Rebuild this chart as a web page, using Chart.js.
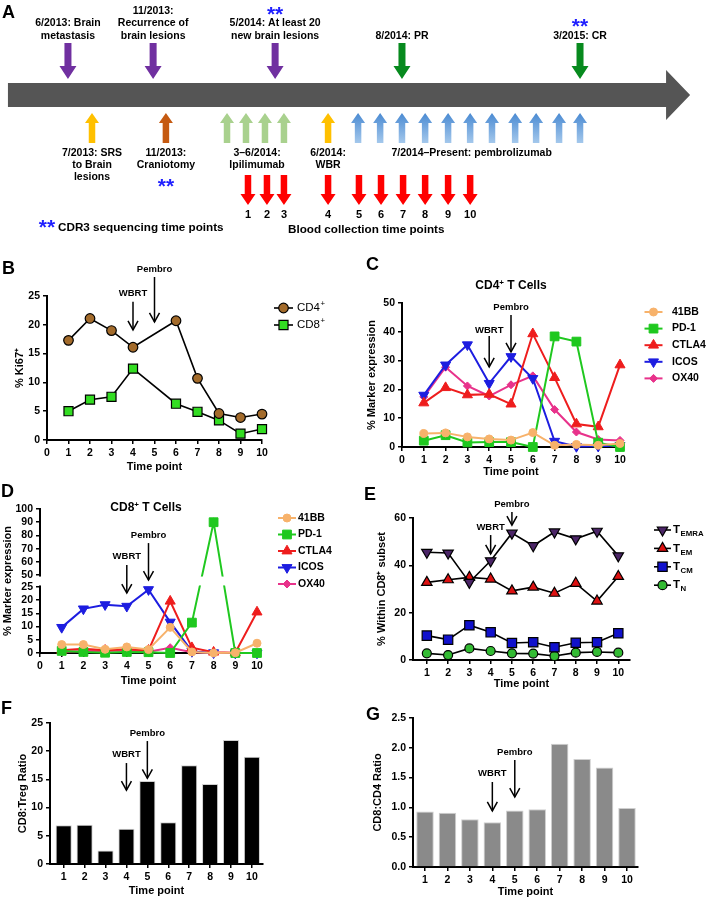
<!DOCTYPE html>
<html>
<head>
<meta charset="utf-8">
<script src="https://cdn.jsdelivr.net/npm/chart.js@4.4.1/dist/chart.umd.min.js"></script>
<style>
  body { margin: 0; background: #fff; }
  #fig { position: relative; width: 706px; height: 900px; overflow: hidden;
         font-family: "Liberation Sans", Arial, Helvetica, sans-serif; font-weight: bold; color: #000; }
  canvas { position: absolute; }
  .lbl { position: absolute; font-size: 18px; line-height: 18px; }
  .ttl { position: absolute; width: 120px; text-align: center; font-size: 12px; line-height: 14px; }
  .ttl sup { font-size: 8px; line-height: 0; vertical-align: 4px; }
</style>
</head>
<body>
<div id="fig">
  <canvas id="cA" width="706" height="245" style="left:0;top:0"></canvas>
  <canvas id="cB" width="360" height="230" style="left:0;top:250px"></canvas>
  <canvas id="cC" width="346" height="230" style="left:360px;top:250px"></canvas>
  <canvas id="cD" width="360" height="220" style="left:0;top:480px"></canvas>
  <canvas id="cE" width="346" height="220" style="left:360px;top:480px"></canvas>
  <canvas id="cF" width="360" height="200" style="left:0;top:700px"></canvas>
  <canvas id="cG" width="346" height="200" style="left:360px;top:700px"></canvas>

  <div class="lbl" style="left:2px;top:3px">A</div>
  <div class="lbl" style="left:2px;top:259px">B</div>
  <div class="lbl" style="left:366px;top:255px">C</div>
  <div class="lbl" style="left:1px;top:482px">D</div>
  <div class="lbl" style="left:364px;top:485px">E</div>
  <div class="lbl" style="left:1px;top:699px">F</div>
  <div class="lbl" style="left:366px;top:705px">G</div>

  <div class="ttl" style="left:451px;top:278px">CD4<sup>+</sup> T Cells</div>
  <div class="ttl" style="left:86px;top:500px">CD8<sup>+</sup> T Cells</div>
</div>

<script>
// ---------- data ----------
const timePoints = [1, 2, 3, 4, 5, 6, 7, 8, 9, 10];

// B: % Ki67+ (no sample at time point 5)
const ki67CD4 = [17.3, 21.1, 19.0, 16.1, null, 20.7, 10.7, 4.6, 3.9, 4.5];
const ki67CD8 = [5.0, 7.0, 7.5, 12.4, null, 6.3, 4.9, 3.4, 1.1, 1.9];

// C: CD4+ T cell marker expression (%)
const cd4_41BB  = [4.7, 4.9, 3.5, 2.8, 2.4, 5.0, 0.6, 0.9, 0.6, 1.2];
const cd4_PD1   = [2.2, 4.1, 1.6, 1.7, 1.7, 0.0, 38.4, 36.6, 1.5, 0.0];
const cd4_CTLA4 = [15.3, 20.6, 18.1, 18.3, 14.9, 39.3, 24.1, 8.0, 7.0, 28.5];
const cd4_ICOS  = [18.0, 28.5, 35.5, 22.1, 31.4, 23.8, 2.0, 0.2, 0.3, 0.5];
const cd4_OX40  = [17.4, 27.7, 21.2, 17.7, 21.6, 24.7, 13.0, 5.2, 2.6, 2.3];

// D: CD8+ T cell marker expression (%)
const cd8_41BB  = [3.2, 3.2, 1.4, 2.3, 1.3, 9.7, 0.4, 0.0, 0.1, 3.7];
const cd8_PD1   = [0.8, 0.4, 0.1, 0.4, 0.3, 0.0, 11.5, 90.0, 0.0, 0.0];
const cd8_CTLA4 = [1.0, 1.6, 1.0, 1.4, 1.0, 19.6, 2.0, 0.3, 0.1, 15.5];
const cd8_ICOS  = [9.7, 16.7, 18.3, 17.7, 24.0, 11.7, 0.6, 0.1, 0.0, 0.0];
const cd8_OX40  = [0.4, 0.8, 0.8, 0.9, 0.5, 2.0, 0.3, 0.0, 0.0, 0.0];

// E: % within CD8+ subset
const tEMRA = [45.5, 45.2, 32.8, 41.9, 53.6, 48.3, 54.1, 51.2, 54.4, 44.0];
const tEM   = [32.8, 33.9, 34.9, 34.2, 29.2, 30.8, 28.2, 32.4, 24.9, 35.3];
const tCM   = [10.3, 8.6, 14.7, 11.7, 7.2, 7.5, 5.4, 7.3, 7.5, 11.3];
const tN    = [2.8, 2.1, 4.9, 3.8, 2.8, 2.7, 1.7, 3.1, 3.4, 3.1];

// F, G: ratios
const cd8TregRatio = [6.85, 6.95, 2.4, 6.25, 14.7, 7.4, 17.5, 14.2, 22.0, 19.0];
const cd8Cd4Ratio  = [0.93, 0.91, 0.80, 0.75, 0.95, 0.97, 2.07, 1.81, 1.67, 0.99];

// tick values
const ticksTime   = [0, 1, 2, 3, 4, 5, 6, 7, 8, 9, 10];
const ticksKi67   = [0, 5, 10, 15, 20, 25];
const ticksCD4Pct = [0, 10, 20, 30, 40, 50];
const ticksCD8Pct = [0, 5, 10, 15, 20, 25, 50, 60, 70, 80, 90, 100];
const ticksSubset = [0, 20, 40, 60];
const ticksTreg   = [0, 5, 10, 15, 20, 25];
const ticksRatio  = [0, 0.5, 1, 1.5, 2, 2.5];

// A: timeline (positions in treatment-slot units along the bar)
const timelineStart = 0.36, timelineHeadBase = 30.19, timelineTip = 31.28;
const topEventPos  = [3.08, 6.94, 12.47, 18.22, 26.29];
const topEventText = [['6/2013: Brain', 'metastasis'], ['11/2013:', 'Recurrence of', 'brain lesions'],
                      ['5/2014: At least 20', 'new brain lesions'], ['8/2014: PR'], ['3/2015: CR']];
const topEventKind = ['disease', 'disease', 'disease', 'response', 'response'];
const topEventSeq  = [false, false, true, false, true];
const srsPos = [4.17];
const craniotomyPos = [7.52];
const ipilimumabPos = [10.29, 11.15, 12.01, 12.87];
const wbrPos = [14.87];
const pembroPos = [16.23, 17.23, 18.22, 19.27, 20.31, 21.31, 22.30, 23.35, 24.30, 25.34, 26.29];
const bloodPos = [11.24, 12.10, 12.87, 14.87, 16.27, 17.27, 18.27, 19.27, 20.31, 21.31];

// ---------- setup ----------
const FONT = '"Liberation Sans", Arial, Helvetica, sans-serif';
const TITLE_SIZE = 11, TICK_SIZE = 10.5;
Chart.defaults.font.family = FONT;
Chart.defaults.font.weight = 'bold';
Chart.defaults.color = '#000';
Chart.defaults.animation = false;
Chart.defaults.responsive = false;
Chart.defaults.devicePixelRatio = 1;
Chart.defaults.events = [];
Chart.defaults.plugins.legend.display = false;
Chart.defaults.plugins.tooltip.enabled = false;

// broken axis for panel D (0-25 below, 50-100 above, upper half compressed)
const BRK_LO = 25, BRK_HI = 50, BRK_GAP = 4.5, BRK_K = 0.5;
const toBroken = v => v <= BRK_LO ? v : BRK_LO + BRK_GAP + (v - BRK_HI) * BRK_K;
const fromBroken = t => t <= BRK_LO ? t : BRK_HI + (t - BRK_LO - BRK_GAP) / BRK_K;

// chart area box -> padding and axis sizes
function frame(w, h, area, xTitleY, yTitleX) {
  const half = TITLE_SIZE * 1.2 / 2;
  return {
    padding: { left: 0, top: area[1], right: w - area[2], bottom: h - (xTitleY + half) },
    yWidth: area[0],
    xHeight: xTitleY + half - area[3],
    yTitlePad: yTitleX - half
  };
}

function axis(f, o, horiz) {
  return {
    type: 'linear',
    position: horiz ? 'bottom' : 'left',
    min: o.min ?? o.ticks[0],
    max: o.max ?? o.ticks[o.ticks.length - 1],
    offset: false,
    grid: { display: true, drawOnChartArea: false, drawTicks: true, tickLength: 4,
            color: '#000', lineWidth: 1.5, offset: false },
    border: { display: true, color: '#000', width: 2 },
    ticks: { autoSkip: false, maxRotation: 0, padding: 3, color: '#000',
             font: { size: TICK_SIZE, weight: 'bold' }, callback: o.fmt || (v => String(v)) },
    title: { display: true, text: o.title, color: '#000', font: { size: TITLE_SIZE, weight: 'bold' },
             padding: horiz ? { top: 0, bottom: 0 } : { top: f.yTitlePad, bottom: 0 } },
    afterBuildTicks: s => { s.ticks = o.ticks.map(v => ({ value: v })); },
    afterFit: s => { if (horiz) s.height = f.xHeight; else s.width = f.yWidth; }
  };
}

function series(label, values, o) {
  return {
    label, labelSup: o.sup, labelSub: o.sub,
    data: values.map((v, i) => ({ x: timePoints[i], y: v == null ? null : (o.map ? o.map(v) : v) })),
    borderColor: o.line, borderWidth: o.lw || 2,
    pointStyle: o.style, pointRotation: o.rot || 0, pointRadius: o.r,
    pointBackgroundColor: o.fill, pointBorderColor: o.edge || o.fill, pointBorderWidth: o.ew || 1,
    spanGaps: true, clip: false, tension: 0
  };
}

// marker for the side legends (same shapes as Chart.js point styles)
function marker(ctx, style, r, rot, x, y) {
  ctx.beginPath();
  if (style === 'circle') {
    ctx.arc(x, y, r, 0, Math.PI * 2);
  } else if (style === 'rect') {
    const s = r * Math.SQRT1_2;
    ctx.rect(x - s, y - s, 2 * s, 2 * s);
  } else if (style === 'rectRot') {
    ctx.moveTo(x - r, y); ctx.lineTo(x, y - r); ctx.lineTo(x + r, y); ctx.lineTo(x, y + r);
  } else if (style === 'triangle') {
    let a = rot * Math.PI / 180;
    for (let k = 0; k < 3; k++) {
      const px = x + Math.sin(a) * r, py = y - Math.cos(a) * r;
      if (k === 0) ctx.moveTo(px, py); else ctx.lineTo(px, py);
      a += Math.PI * 2 / 3;
    }
  }
  ctx.closePath();
  ctx.fill();
  ctx.stroke();
}

const decor = {
  id: 'decor',
  afterDatasetsDraw(chart, args, o) {
    if (!o.gap) return;
    const { ctx, chartArea: a, scales: { y } } = chart;
    const yTop = y.getPixelForValue(o.gap[1]), yBot = y.getPixelForValue(o.gap[0]);
    ctx.save();
    ctx.fillStyle = '#fff';
    ctx.fillRect(a.left - 6, yTop + 1.5, a.right - a.left + 10, yBot - yTop - 3);
    ctx.restore();
  },
  afterDraw(chart, args, o) {
    const ctx = chart.ctx, xs = chart.scales.x, ys = chart.scales.y;
    (o.callouts || []).forEach(c => {
      const x = xs.getPixelForValue(c.x);
      const y0 = ys.getPixelForValue(c.from), y1 = ys.getPixelForValue(c.to);
      ctx.save();
      ctx.strokeStyle = '#000';
      ctx.lineWidth = 1.5;
      ctx.beginPath(); ctx.moveTo(x, y0); ctx.lineTo(x, y1); ctx.stroke();
      ctx.beginPath(); ctx.moveTo(x - 5, y1 - 9); ctx.lineTo(x, y1); ctx.lineTo(x + 5, y1 - 9); ctx.stroke();
      ctx.font = `bold 9.5px ${FONT}`;
      ctx.fillStyle = '#000';
      ctx.textAlign = 'center';
      ctx.textBaseline = 'middle';
      ctx.fillText(c.label, x, ys.getPixelForValue(c.labelAt));
      ctx.restore();
    });
    const L = o.legend;
    if (!L) return;
    chart.data.datasets.forEach((ds, i) => {
      const y = L.y + i * L.dy;
      ctx.save();
      ctx.strokeStyle = ds.borderColor;
      ctx.lineWidth = ds.borderWidth;
      ctx.beginPath(); ctx.moveTo(L.x - L.half, y); ctx.lineTo(L.x + L.half, y); ctx.stroke();
      ctx.fillStyle = ds.pointBackgroundColor;
      ctx.strokeStyle = ds.pointBorderColor;
      ctx.lineWidth = ds.pointBorderWidth;
      marker(ctx, ds.pointStyle, ds.pointRadius, ds.pointRotation, L.x, y);
      ctx.fillStyle = '#000';
      ctx.textAlign = 'left';
      ctx.textBaseline = 'middle';
      ctx.font = `${L.weight} ${L.size}px ${FONT}`;
      ctx.fillText(ds.label, L.textX, y);
      const w = ctx.measureText(ds.label).width;
      ctx.font = `${L.weight} ${L.size * 0.68}px ${FONT}`;
      if (ds.labelSup) ctx.fillText(ds.labelSup, L.textX + w + 0.5, y - 4);
      if (ds.labelSub) ctx.fillText(ds.labelSub, L.textX + w + 0.5, y + 4);
      ctx.restore();
    });
  }
};

function lineChart(id, f, datasets, xo, yo, extra) {
  return new Chart(document.getElementById(id), {
    type: 'line',
    data: { datasets },
    options: {
      layout: { padding: f.padding, autoPadding: false },
      scales: { x: axis(f, xo, true), y: axis(f, yo, false) },
      plugins: { decor: extra }
    },
    plugins: [decor]
  });
}

function barChart(id, f, values, color, xo, yo, extra) {
  return new Chart(document.getElementById(id), {
    type: 'bar',
    data: { datasets: [{
      data: values.map((v, i) => ({ x: timePoints[i], y: v })),
      backgroundColor: color, borderColor: '#cfcfcf', borderWidth: 1,
      categoryPercentage: 1, barPercentage: xo.bar
    }] },
    options: {
      layout: { padding: f.padding, autoPadding: false },
      scales: { x: axis(f, xo, true), y: axis(f, yo, false) },
      plugins: { decor: extra }
    },
    plugins: [decor]
  });
}

// ---------- A: timeline ----------
const timelinePlugin = {
  id: 'timeline',
  afterDraw(chart) {
    const ctx = chart.ctx;
    const X = v => chart.scales.x.getPixelForValue(v);
    const txt = (s, x, y, size, color, align) => {
      ctx.font = `bold ${size}px ${FONT}`;
      ctx.fillStyle = color || '#000';
      ctx.textAlign = align || 'center';
      ctx.textBaseline = 'middle';
      ctx.fillText(s, x, y);
    };
    const stars = (x, y, align) => {
      ctx.font = `bold 21px ${FONT}`;
      ctx.fillStyle = '#1f1fff';
      ctx.textAlign = align || 'center';
      ctx.textBaseline = 'alphabetic';
      ctx.fillText('**', x, y + 11.5);
    };
    const block = (x, yTail, yTip, shaftW, headW, headL, fill) => {
      const dir = Math.sign(yTip - yTail), yBase = yTip - dir * headL;
      ctx.beginPath();
      ctx.moveTo(x - shaftW / 2, yTail);
      ctx.lineTo(x - shaftW / 2, yBase);
      ctx.lineTo(x - headW / 2, yBase);
      ctx.lineTo(x, yTip);
      ctx.lineTo(x + headW / 2, yBase);
      ctx.lineTo(x + shaftW / 2, yBase);
      ctx.lineTo(x + shaftW / 2, yTail);
      ctx.closePath();
      ctx.fillStyle = fill;
      ctx.fill();
    };

    ctx.save();
    // main time bar
    ctx.fillStyle = '#555555';
    ctx.beginPath();
    ctx.moveTo(X(timelineStart), 83);
    ctx.lineTo(X(timelineHeadBase), 83);
    ctx.lineTo(X(timelineHeadBase), 70);
    ctx.lineTo(X(timelineTip), 95);
    ctx.lineTo(X(timelineHeadBase), 120);
    ctx.lineTo(X(timelineHeadBase), 107);
    ctx.lineTo(X(timelineStart), 107);
    ctx.closePath();
    ctx.fill();

    // events above the bar
    topEventPos.forEach((p, i) => {
      const x = X(p), lines = topEventText[i];
      const first = 36 - (lines.length - 1) * 12.4;
      lines.forEach((s, k) => txt(s, x, first + k * 12.4, 10.5));
      if (topEventSeq[i]) stars(x, first - 14.5);
      block(x, 43, 79, 7, 17, 13, topEventKind[i] === 'disease' ? '#7030a0' : '#078a1e');
    });

    // treatments below the bar
    const up = (p, fill) => block(X(p), 143, 113, 6.5, 14, 10, fill);
    srsPos.forEach(p => up(p, '#ffc000'));
    craniotomyPos.forEach(p => up(p, '#c55a11'));
    ipilimumabPos.forEach(p => up(p, '#a9d18e'));
    wbrPos.forEach(p => up(p, '#ffc000'));
    const grad = ctx.createLinearGradient(0, 113, 0, 143);
    grad.addColorStop(0, '#4a8ad2');
    grad.addColorStop(1, '#a4c8ec');
    pembroPos.forEach(p => up(p, grad));

    const mean = a => a.reduce((s, v) => s + v, 0) / a.length;
    const below = (lines, p) => lines.forEach((s, k) => txt(s, X(p), 153 + k * 12.2, 10.5));
    below(['7/2013: SRS', 'to Brain', 'lesions'], srsPos[0]);
    below(['11/2013:', 'Craniotomy'], craniotomyPos[0]);
    stars(X(craniotomyPos[0]), 181);
    below(['3\u20136/2014:', 'Ipilimumab'], mean(ipilimumabPos) + 0.07);
    below(['6/2014:', 'WBR'], wbrPos[0]);
    below(['7/2014\u2013Present: pembrolizumab'], mean(pembroPos) + 0.09);

    // blood collection
    bloodPos.forEach((p, i) => {
      block(X(p), 175, 205, 6.5, 15, 11, '#ff0000');
      txt(String(i + 1), X(p), 215, 11);
    });
    txt('Blood collection time points', X(16.6), 230, 11.7);

    stars(X(2.13), 222);
    txt('CDR3 sequencing time points', X(2.63), 228, 11.7, '#000', 'left');
    ctx.restore();
  }
};

new Chart(document.getElementById('cA'), {
  type: 'scatter',
  data: { datasets: [] },
  options: {
    layout: { padding: 0, autoPadding: false },
    scales: { x: { type: 'linear', display: false, min: 0, max: 32 },
              y: { type: 'linear', display: false, min: 0, max: 1 } }
  },
  plugins: [timelinePlugin]
});

// ---------- B ----------
const fB = frame(360, 230, [47, 46, 262, 190], 217, 20);
lineChart('cB', fB, [
  series('CD4', ki67CD4, { sup: '+', line: '#000', lw: 1.6, style: 'circle', r: 4.8, fill: '#a36b2b', edge: '#000', ew: 1.2 }),
  series('CD8', ki67CD8, { sup: '+', line: '#000', lw: 1.6, style: 'rect', r: 6.4, fill: '#33dd22', edge: '#000', ew: 1.2 })
], { ticks: ticksTime, title: 'Time point' }, { ticks: ticksKi67, title: '% Ki67\u207A' }, {
  callouts: [{ x: 4, label: 'WBRT', labelAt: 25.5, from: 24.0, to: 19.1 },
             { x: 5, label: 'Pembro', labelAt: 29.7, from: 28.3, to: 20.5 }],
  legend: { x: 283.5, half: 9.5, textX: 297, y: 58, dy: 17, size: 11.5, weight: 'normal' }
});

// ---------- C ----------
const fC = frame(346, 230, [42, 53, 260, 197], 222, 12);
const mk = {
  '41BB':  { line: '#f7b26b', style: 'circle', r: 4, fill: '#f7b26b' },
  'PD-1':  { line: '#1fc81f', style: 'rect', r: 6.2, fill: '#1fc81f' },
  'CTLA4': { line: '#ee1d1d', style: 'triangle', r: 5.8, fill: '#ee1d1d' },
  'ICOS':  { line: '#1d1de0', style: 'triangle', rot: 180, r: 5.8, fill: '#1d1de0' },
  'OX40':  { line: '#e8328b', style: 'rectRot', r: 4, fill: '#e8328b' }
};
lineChart('cC', fC, [
  series('41BB', cd4_41BB, mk['41BB']),
  series('PD-1', cd4_PD1, mk['PD-1']),
  series('CTLA4', cd4_CTLA4, mk['CTLA4']),
  series('ICOS', cd4_ICOS, mk['ICOS']),
  series('OX40', cd4_OX40, mk['OX40'])
], { ticks: ticksTime, title: 'Time point' }, { ticks: ticksCD4Pct, title: '% Marker expression' }, {
  callouts: [{ x: 4, label: 'WBRT', labelAt: 40.6, from: 38.5, to: 27.8 },
             { x: 5, label: 'Pembro', labelAt: 48.6, from: 45.8, to: 33.0 }],
  legend: { x: 293.5, half: 9, textX: 312, y: 62, dy: 16.6, size: 10.5, weight: 'bold' }
});

// ---------- D (broken y axis) ----------
const fD = frame(360, 220, [40, 29, 257, 173], 201, 8);
const brk = o => Object.assign({ map: toBroken }, o);
lineChart('cD', fD, [
  series('41BB', cd8_41BB, brk(mk['41BB'])),
  series('PD-1', cd8_PD1, brk(mk['PD-1'])),
  series('CTLA4', cd8_CTLA4, brk(mk['CTLA4'])),
  series('ICOS', cd8_ICOS, brk(mk['ICOS'])),
  series('OX40', cd8_OX40, brk(mk['OX40']))
], { ticks: ticksTime, title: 'Time point' },
   { ticks: ticksCD8Pct.map(toBroken), min: 0, max: toBroken(100), title: '% Marker expression',
     fmt: v => String(Math.round(fromBroken(v))) }, {
  gap: [BRK_LO, BRK_LO + BRK_GAP],
  // callout positions are in the broken-axis units
  callouts: [{ x: 4, label: 'WBRT', labelAt: 36.7, from: 33.3, to: 22.7 },
             { x: 5, label: 'Pembro', labelAt: 44.7, from: 41.6, to: 27.6 }],
  legend: { x: 287, half: 9, textX: 298, y: 38, dy: 16.5, size: 10.5, weight: 'bold' }
});

// ---------- E ----------
const fE = frame(346, 220, [53, 38, 270, 180], 204, 22);
lineChart('cE', fE, [
  series('T', tEMRA, { sub: 'EMRA', line: '#000', lw: 1.6, style: 'triangle', rot: 180, r: 6, fill: '#4b2567', edge: '#000', ew: 1.2 }),
  series('T', tEM,   { sub: 'EM', line: '#000', lw: 1.6, style: 'triangle', r: 6, fill: '#dd1111', edge: '#000', ew: 1.2 }),
  series('T', tCM,   { sub: 'CM', line: '#000', lw: 1.6, style: 'rect', r: 6.6, fill: '#1111cc', edge: '#000', ew: 1.2 }),
  series('T', tN,    { sub: 'N', line: '#000', lw: 1.6, style: 'circle', r: 4.5, fill: '#33bb33', edge: '#000', ew: 1.2 })
], { ticks: timePoints, min: 0.35, max: 10.55, title: 'Time point' },
   { ticks: ticksSubset, title: '% Within CD8\u207A subset' }, {
  callouts: [{ x: 4, label: 'WBRT', labelAt: 56.2, from: 52.8, to: 44.8 },
             { x: 5, label: 'Pembro', labelAt: 65.9, from: 62.5, to: 57.0 }],
  legend: { x: 302.5, half: 8.5, textX: 313, y: 50, dy: 18.4, size: 11.5, weight: 'bold' }
});

// ---------- F ----------
const fF = frame(360, 200, [50, 23, 263, 164], 191, 23);
barChart('cF', fF, cd8TregRatio, '#000000',
  { ticks: timePoints, min: 0.345, max: 10.53, bar: 0.77, title: 'Time point' },
  { ticks: ticksTreg, title: 'CD8:Treg Ratio' }, {
  callouts: [{ x: 4, label: 'WBRT', labelAt: 19.5, from: 17.9, to: 13.1 },
             { x: 5, label: 'Pembro', labelAt: 23.2, from: 21.8, to: 15.2 }]
});

// ---------- G ----------
const fG = frame(346, 200, [53, 18, 278, 167], 192, 18);
barChart('cG', fG, cd8Cd4Ratio, '#8a8a8a',
  { ticks: timePoints, min: 0.465, max: 10.49, bar: 0.78, title: 'Time point' },
  { ticks: ticksRatio, title: 'CD8:CD4 Ratio', fmt: v => v.toFixed(1) }, {
  callouts: [{ x: 4, label: 'WBRT', labelAt: 1.577, from: 1.426, to: 0.94 },
             { x: 5, label: 'Pembro', labelAt: 1.93, from: 1.795, to: 1.174 }]
});
</script>
</body>
</html>
